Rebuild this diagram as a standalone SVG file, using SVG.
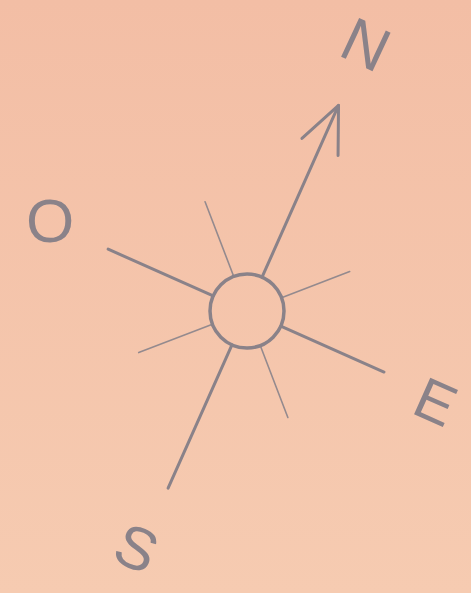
<svg xmlns="http://www.w3.org/2000/svg" width="471" height="593" viewBox="0 0 471 593">
<defs>
<linearGradient id="bg" x1="0" y1="0" x2="0" y2="1">
<stop offset="0" stop-color="#f3bea5"/>
<stop offset="1" stop-color="#f6cbb1"/>
</linearGradient>
</defs>
<style>
.main{stroke:#8a8289;stroke-width:3;fill:none;stroke-linecap:round;stroke-linejoin:round}
.thin{stroke:#948a8e;stroke-width:1.6;fill:none;stroke-linecap:round}
.lbl{font-family:"Liberation Sans",Arial,sans-serif;font-size:60px;fill:#8a8289;text-anchor:middle}
</style>
<rect x="0" y="0" width="471" height="593" fill="url(#bg)"/>
<g id="connectors" transform="translate(247,311) rotate(24)">
<line class="main" x1="0" y1="-37" x2="0" y2="-225"/>
<polyline class="main" points="-20,-180 0,-225 20,-179"/>
<line class="main" x1="37" y1="0" x2="150" y2="0"/>
<line class="main" x1="0" y1="37" x2="0" y2="194"/>
<line class="main" x1="-37" y1="0" x2="-152" y2="0"/>
<line class="thin" x1="0" y1="-37" x2="0" y2="-110" transform="rotate(45)"/>
<line class="thin" x1="0" y1="-37" x2="0" y2="-114" transform="rotate(135)"/>
<line class="thin" x1="0" y1="-37" x2="0" y2="-116" transform="rotate(225)"/>
<line class="thin" x1="0" y1="-37" x2="0" y2="-117" transform="rotate(315)"/>
</g>
<g id="center">
<circle cx="247" cy="311" r="37" fill="none" stroke="#8a8289" stroke-width="3.5"/>
</g>
<g id="label-N" transform="translate(366,44) rotate(25)"><text class="lbl" x="0" y="22" style="font-size:62px">N</text></g>
<g id="label-O" transform="translate(50,220)"><text class="lbl" x="0" y="22" style="font-size:62px">O</text></g>
<g id="label-E" transform="translate(436,401) rotate(24)"><text class="lbl" x="0" y="21" style="font-size:58px">E</text></g>
<g id="label-S" transform="translate(137,547) rotate(24)"><text class="lbl" x="0" y="22">S</text></g>
</svg>
